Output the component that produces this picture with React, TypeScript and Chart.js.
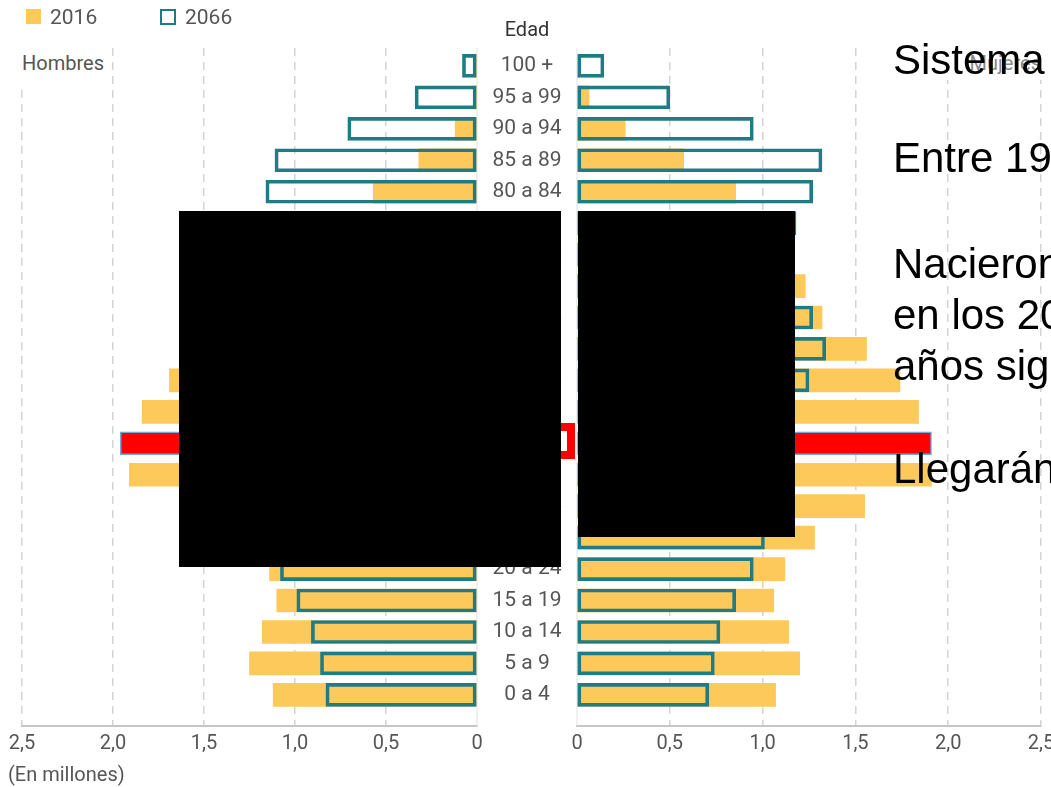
import React, { useEffect, useRef } from 'react';
import { Chart, registerables } from 'chart.js';

Chart.register(...registerables);

// Age groups, bottom (index 0) to top
const ageGroups = [
  '0 a 4', '5 a 9', '10 a 14', '15 a 19', '20 a 24', '25 a 29', '30 a 34',
  '35 a 39', '40 a 44', '45 a 49', '50 a 54', '55 a 59', '60 a 64', '65 a 69',
  '70 a 74', '75 a 79', '80 a 84', '85 a 89', '90 a 94', '95 a 99', '100 +',
];

// Values in millions
const men2016 = [1.12, 1.25, 1.18, 1.10, 1.14, 1.30, 1.55, 1.91, 1.96, 1.84, 1.69, 1.52, 1.30, 1.15, 0.92, 0.76, 0.57, 0.32, 0.12, 0.02, 0.005];
const men2066 = [0.83, 0.86, 0.91, 0.99, 1.08, 1.12, 1.15, 1.18, 1.22, 1.27, 1.33, 1.37, 1.33, 1.28, 1.22, 1.14, 1.16, 1.11, 0.71, 0.34, 0.08];
const women2016 = [1.07, 1.20, 1.14, 1.06, 1.12, 1.28, 1.55, 1.91, 1.91, 1.84, 1.74, 1.56, 1.32, 1.23, 1.08, 0.95, 0.855, 0.575, 0.26, 0.065, 0.01];
const women2066 = [0.71, 0.74, 0.77, 0.855, 0.95, 1.01, 1.05, 1.09, 1.12, 1.15, 1.25, 1.34, 1.27, 1.17, 1.14, 1.18, 1.27, 1.32, 0.95, 0.50, 0.145];

const xTickValues = [0, 0.5, 1, 1.5, 2, 2.5];
const highlightIndex = 8; // 40 a 44
const seriesLabels = ['2016', '2066'];

const YELLOW = '#FDC95B';
const TEAL = '#1F7C84';
const RED = '#FF0000';
const HL_BORDER = '#6FA8DC';
const TEXT = '#555555';

const fmtTick = (v: number) => (v === 0 ? '0' : Number(v).toFixed(1).replace('.', ','));

const zeroLinePlugin = {
  id: 'zeroLine',
  beforeDatasetsDraw(chart: any) {
    const { ctx, chartArea } = chart;
    const x = chart.scales.x.getPixelForValue(0);
    ctx.save();
    ctx.strokeStyle = '#dbe3e5';
    ctx.lineWidth = 1;
    ctx.beginPath();
    ctx.moveTo(x, chartArea.top);
    ctx.lineTo(x, chartArea.bottom);
    ctx.stroke();
    ctx.restore();
  },
};

const ageLabelPlugin = {
  id: 'ageLabels',
  afterDatasetsDraw(chart: any) {
    const { ctx, chartArea } = chart;
    const y = chart.scales.y;
    ctx.save();
    ctx.font = '21px Roboto';
    ctx.fillStyle = TEXT;
    ctx.textAlign = 'center';
    ctx.textBaseline = 'middle';
    ageGroups.forEach((g, i) => {
      ctx.fillText(g, chartArea.left - 50, y.getPixelForValue(i));
    });
    ctx.restore();
  },
};

function makeConfig(v2016: number[], v2066: number[], reverse: boolean, padding: any, extraPlugins: any[]) {
  return {
    type: 'bar' as const,
    data: {
      datasets: [
        {
          label: seriesLabels[1],
          data: v2066.map((v, i) => ({ x: v, y: i })),
          backgroundColor: 'rgba(0,0,0,0)',
          borderColor: TEAL,
          borderWidth: 3,
          borderSkipped: false,
          barThickness: 23,
          grouped: false,
          order: 0,
        },
        {
          label: seriesLabels[0],
          data: v2016.map((v, i) => ({ x: v, y: i })),
          backgroundColor: v2016.map((_, i) => (i === highlightIndex ? RED : YELLOW)),
          borderColor: v2016.map((_, i) => (i === highlightIndex ? HL_BORDER : YELLOW)),
          borderWidth: v2016.map((_, i) => (i === highlightIndex ? 1.5 : 0)),
          borderSkipped: false,
          barThickness: 23,
          grouped: false,
          order: 1,
        },
      ],
    },
    options: {
      indexAxis: 'y' as const,
      responsive: false,
      animation: false as const,
      events: [],
      layout: { padding },
      plugins: { legend: { display: false }, tooltip: { enabled: false } },
      scales: {
        x: {
          type: 'linear' as const,
          min: 0,
          max: 2.5,
          reverse,
          offset: false,
          afterBuildTicks(scale: any) {
            scale.ticks = xTickValues.map((value) => ({ value }));
          },
          afterFit(scale: any) {
            scale.height = 40;
          },
          ticks: {
            callback: (v: any) => fmtTick(Number(v)),
            font: { family: 'Roboto', size: 20 },
            color: TEXT,
            padding: 6,
            maxRotation: 0,
          },
          grid: {
            color: (ctx: any) => (ctx.tick && ctx.tick.value === 0 ? 'rgba(0,0,0,0)' : '#d4d4d4'),
            lineWidth: 1.5,
            drawTicks: false,
          },
          border: { display: true, color: '#c6c6c6', width: 2, dash: [8, 6] },
        },
        y: {
          type: 'linear' as const,
          display: false,
          offset: false,
          grace: 0,
          min: -0.99,
          max: 20.57,
        },
      },
    },
    plugins: [zeroLinePlugin, ...extraPlugins],
  };
}

export default function App() {
  const leftRef = useRef<HTMLCanvasElement>(null);
  const rightRef = useRef<HTMLCanvasElement>(null);

  useEffect(() => {
    const left = new Chart(
      leftRef.current as HTMLCanvasElement,
      makeConfig(men2016, men2066, true, { left: 22, right: 23, top: 48, bottom: 4 }, []) as any
    );
    const right = new Chart(
      rightRef.current as HTMLCanvasElement,
      makeConfig(women2016, women2066, false, { left: 97, right: 39, top: 48, bottom: 4 }, [ageLabelPlugin]) as any
    );
    return () => {
      left.destroy();
      right.destroy();
    };
  }, []);

  const abs = (s: React.CSSProperties): React.CSSProperties => ({ position: 'absolute', ...s });
  const overlayFont: React.CSSProperties = {
    fontFamily: '"Liberation Sans", Arial, sans-serif',
    fontSize: 42,
    lineHeight: '51px',
    color: '#000',
    whiteSpace: 'nowrap',
  };

  return (
    <div
      style={{
        position: 'fixed',
        left: 0,
        top: 0,
        width: 1051,
        height: 787,
        overflow: 'hidden',
        background: '#fff',
        fontFamily: 'Roboto, sans-serif',
        color: TEXT,
      }}
    >
      <canvas ref={leftRef} width={500} height={770} style={abs({ left: 0, top: 0 })} />
      <canvas ref={rightRef} width={600} height={770} style={abs({ left: 480, top: 0 })} />

      {/* legend */}
      <div style={abs({ left: 26, top: 9, width: 15, height: 15, background: YELLOW })} />
      <div style={abs({ left: 50, top: 3, fontSize: 21, lineHeight: '28px' })}>{seriesLabels[0]}</div>
      <div style={abs({ left: 160, top: 9, width: 16, height: 16, border: `2.5px solid ${TEAL}`, boxSizing: 'border-box' })} />
      <div style={abs({ left: 185, top: 3, fontSize: 21, lineHeight: '28px' })}>{seriesLabels[1]}</div>

      <div style={abs({ left: 477, top: 15, width: 100, textAlign: 'center', fontSize: 20, lineHeight: '28px', color: '#333' })}>Edad</div>

      <div style={abs({ left: 17, top: 48, width: 90, height: 42, background: '#fff', fontSize: 20, lineHeight: '30px', paddingLeft: 5, boxSizing: 'border-box' })}>Hombres</div>
      <div style={abs({ left: 940, top: 48, width: 104, height: 32, background: '#fff', fontSize: 20, lineHeight: '30px', textAlign: 'right', paddingRight: 3, boxSizing: 'border-box', color: '#888' })}>Mujeres</div>

      <div style={abs({ left: 8, top: 760, fontSize: 20, lineHeight: '28px' })}>(En millones)</div>

      {/* highlight box around age label */}
      <div style={abs({ left: 479, top: 423, width: 96, height: 36, border: `8px solid ${RED}`, boxSizing: 'border-box' })} />

      {/* redaction boxes */}
      <div style={abs({ left: 179, top: 211, width: 382, height: 356, background: '#000' })} />
      <div style={abs({ left: 578, top: 211, width: 217, height: 326, background: '#000' })} />

      {/* overlay slide text */}
      <div style={abs({ left: 893, top: 34, ...overlayFont })}>Sistema de pensiones</div>
      <div style={abs({ left: 893, top: 132, ...overlayFont })}>Entre 1958 y 1977</div>
      <div style={abs({ left: 893, top: 238, ...overlayFont })}>
        <div>Nacieron 14 millones</div>
        <div>en los 20</div>
        <div>años siguientes</div>
      </div>
      <div style={abs({ left: 893, top: 443, ...overlayFont })}>Llegarán a la jubilación</div>
    </div>
  );
}
